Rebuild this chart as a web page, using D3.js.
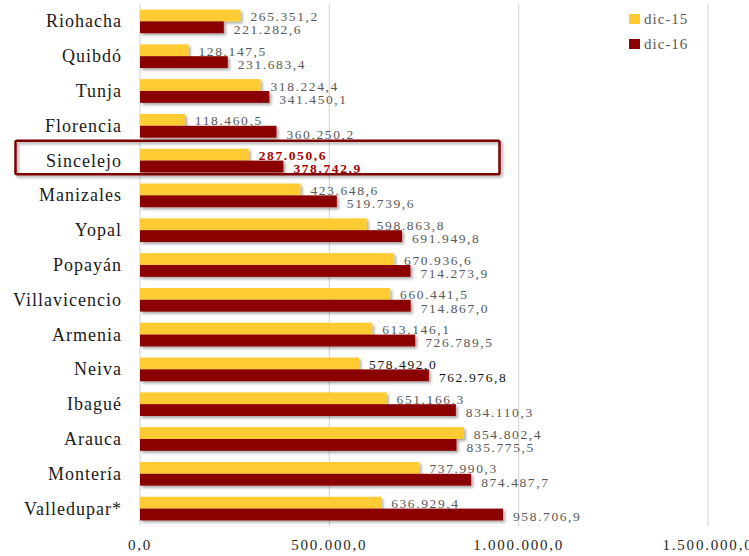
<!DOCTYPE html>
<html>
<head>
<meta charset="utf-8">
<script src="https://cdn.jsdelivr.net/npm/d3@7"></script>
<style>
  body { margin: 0; background: #fff; }
  svg { display: block; }
</style>
</head>
<body>
<svg width="749" height="556"></svg>
<script>
// data
const cities = ["Riohacha", "Quibdó", "Tunja", "Florencia", "Sincelejo", "Manizales", "Yopal",
  "Popayán", "Villavicencio", "Armenia", "Neiva", "Ibagué", "Arauca", "Montería", "Valledupar*"];
const dic15 = [265351.2, 128147.5, 318224.4, 118460.5, 287050.6, 423648.6, 598863.8,
  670936.6, 660441.5, 613146.1, 578492.0, 651166.3, 854802.4, 737990.3, 636929.4];
const dic16 = [221282.6, 231683.4, 341450.1, 360250.2, 378742.9, 519739.6, 691949.8,
  714273.9, 714867.0, 726789.5, 762976.8, 834110.3, 835775.5, 874487.7, 958706.9];
const seriesNames = ["dic-15", "dic-16"];
const xTicks = [0, 500000, 1000000, 1500000];
const highlight = "Sincelejo";
const darkLabels = ["Neiva"];

const colors = { "dic-15": "#FFCB31", "dic-16": "#8B0000" };
const serif = "'Liberation Serif', 'Times New Roman', serif";

const es = d3.formatLocale({ decimal: ",", thousands: ".", grouping: [3], currency: ["", ""] });
const fmt = es.format(",.1f");

const svg = d3.select("svg");
const defs = svg.append("defs");
defs.append("filter").attr("id", "shadow")
  .attr("x", "-10%").attr("y", "-30%").attr("width", "130%").attr("height", "180%")
  .append("feDropShadow")
  .attr("dx", 2).attr("dy", 2).attr("stdDeviation", 1.5)
  .attr("flood-color", "#000").attr("flood-opacity", 0.35);

const x = d3.scaleLinear().domain([0, 1500000]).range([140, 708]);
const y = d3.scaleBand().domain(cities).range([4, 526]).paddingInner(0.32).paddingOuter(0.16);
const ySub = d3.scaleBand().domain(seriesNames).range([0, y.bandwidth()]);

// gridlines
svg.append("g").selectAll("line")
  .data(xTicks)
  .enter().append("line")
  .attr("x1", d => x(d)).attr("x2", d => x(d))
  .attr("y1", 4).attr("y2", 526)
  .attr("stroke", "#d9d9d9").attr("stroke-width", 1.2);

// x axis labels
svg.append("g").selectAll("text")
  .data(xTicks)
  .enter().append("text")
  .attr("x", d => x(d))
  .attr("y", 550)
  .attr("text-anchor", "middle")
  .style("font-family", serif)
  .style("font-size", "15px")
  .style("letter-spacing", "1.8px")
  .attr("fill", "#262626")
  .text(d => fmt(d));

// city labels
svg.append("g").selectAll("text")
  .data(cities)
  .enter().append("text")
  .attr("x", 122)
  .attr("y", d => y(d) + y.bandwidth() / 2 + 6)
  .attr("text-anchor", "end")
  .style("font-family", serif)
  .style("font-size", "18px")
  .style("letter-spacing", "1px")
  .attr("fill", "#1a1a1a")
  .text(d => d);

// bars
const rows = cities.map((c, i) => ({ city: c, values: [
  { key: "dic-15", value: dic15[i] },
  { key: "dic-16", value: dic16[i] }
] }));

const groups = svg.append("g").selectAll("g")
  .data(rows)
  .enter().append("g")
  .attr("transform", d => `translate(0,${y(d.city)})`);

groups.selectAll("rect")
  .data(d => d.values)
  .enter().append("rect")
  .attr("x", x(0))
  .attr("y", d => ySub(d.key))
  .attr("width", d => x(d.value) - x(0))
  .attr("height", ySub.bandwidth())
  .attr("fill", d => colors[d.key])
  .attr("filter", "url(#shadow)");

// value labels
groups.each(function(row) {
  const g = d3.select(this);
  const isHi = row.city === highlight;
  const isDark = darkLabels.includes(row.city);
  g.selectAll("text.val")
    .data(row.values)
    .enter().append("text")
    .attr("class", "val")
    .attr("x", d => x(d.value) + 10)
    .attr("y", d => ySub(d.key) + ySub.bandwidth() - 0.5 + (d.key === "dic-16" ? 1.5 : 0))
    .style("font-family", serif)
    .style("font-size", "13.5px")
    .style("letter-spacing", "1.6px")
    .style("font-weight", isHi ? "bold" : "normal")
    .attr("fill", isHi ? "#A50000" : isDark ? "#111" : "#595959")
    .text(d => fmt(d.value));
});

// highlight box
svg.append("rect")
  .attr("x", 15.5)
  .attr("y", y(highlight) - 8)
  .attr("width", 484)
  .attr("height", 33.5)
  .attr("rx", 1.5)
  .attr("fill", "none")
  .attr("stroke", "#7F0000")
  .attr("stroke-width", 2.5)
  .attr("filter", "url(#shadow)");

// legend
const legend = svg.append("g").selectAll("g")
  .data(seriesNames)
  .enter().append("g")
  .attr("transform", (d, i) => `translate(629,${14 + i * 25})`);

legend.append("rect")
  .attr("width", 11).attr("height", 10)
  .attr("fill", d => colors[d]);

legend.append("text")
  .attr("x", 15).attr("y", 10)
  .style("font-family", serif)
  .style("font-size", "15px")
  .style("letter-spacing", "1px")
  .attr("fill", "#595959")
  .text(d => d);
</script>
</body>
</html>
